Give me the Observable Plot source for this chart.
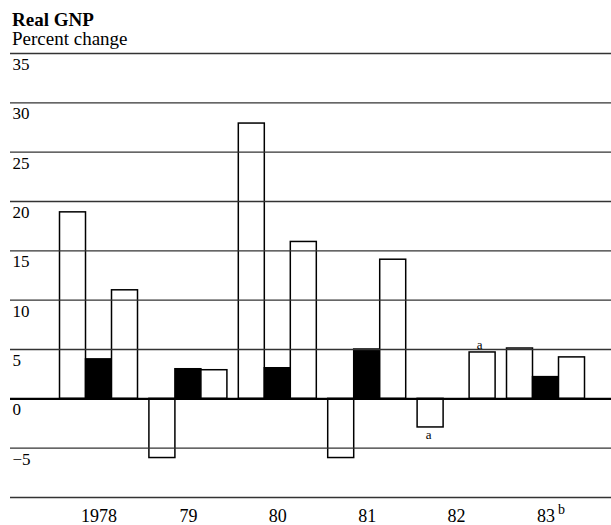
<!DOCTYPE html>
<html>
<head>
<meta charset="utf-8">
<script src="https://cdn.jsdelivr.net/npm/d3@7"></script>
<script src="https://cdn.jsdelivr.net/npm/@observablehq/plot@0.6"></script>
<style>
  html, body { margin: 0; padding: 0; background: #fff; }
  #wrap { width: 611px; font-family: "Liberation Serif", "Times New Roman", serif; color: #000; }
  .title { font-size: 19px; font-weight: 700; line-height: 19px; padding: 10px 0 0 12px; }
  .subtitle { font-size: 19px; line-height: 19px; padding-left: 12px; }
</style>
</head>
<body>
<div id="wrap">
  <div class="title">Real GNP</div>
  <div class="subtitle">Percent change</div>
  <div id="chart"></div>
</div>
<script>
// ---- data ----
const years = ["1978", "79", "80", "81", "82", "83"];
const firstBar  = [18.9, -6.0, 27.9, -6.0, -2.9, 5.1];   // white, left
const middleBar = [4.0, 3.0, 3.1, 5.0, null, 2.2];        // black, middle
const lastBar   = [11.0, 2.9, 15.9, 14.1, 4.7, 4.2];      // white, right
const yTickValues = [35, 30, 25, 20, 15, 10, 5, 0, -5];
const yTickLabels = ["35", "30", "25", "20", "15", "10", "5", "0", "\u22125"];
const gridValues = [35, 30, 25, 20, 15, 10, 5, -5, -10];
const yearNotes = ["", "", "", "", "", "b"];
const barNotes = [
  {year: "82", bar: 0, text: "a"},
  {year: "82", bar: 2, text: "a"}
];

// ---- build table ----
const series = [
  {values: firstBar, fill: "white"},
  {values: middleBar, fill: "black"},
  {values: lastBar, fill: "white"}
];
const slotW = 26 / 89.4; // bar width as a fraction of the group step
const xDomain = [-0.99, 5.7326];
const bars = [];
years.forEach((yr, i) => {
  series.forEach((s, k) => {
    const v = s.values[i];
    if (v == null) return;
    bars.push({year: yr, x1: i + (k - 1.5) * slotW, x2: i + (k - 0.5) * slotW, value: v, fill: s.fill});
  });
});
const noteRows = barNotes.map(n => {
  const i = years.indexOf(n.year);
  const v = series[n.bar].values[i];
  return {x: i + (n.bar - 1) * slotW, y: v, text: n.text};
});
const notesAbove = noteRows.filter(d => d.y >= 0);
const notesBelow = noteRows.filter(d => d.y < 0);
const yearRows = years.map((y, i) => ({x: i, label: y, note: yearNotes[i]}));
const tickRows = yTickValues.map((v, i) => ({y: v, label: yTickLabels[i]}));
const gridRows = gridValues.map(v => ({y: v, x1: xDomain[0], x2: xDomain[1]}));

const chart = Plot.plot({
  width: 611,
  height: 477,
  marginLeft: 10,
  marginRight: 0,
  marginTop: 5,
  marginBottom: 28,
  style: {fontFamily: "Liberation Serif, Times New Roman, serif", background: "white", overflow: "visible"},
  x: {type: "linear", domain: xDomain, axis: null},
  y: {domain: [-10, 35], axis: null},
  marks: [
    Plot.rect(bars, {x1: "x1", x2: "x2", y1: 0, y2: "value", fill: "fill", stroke: "black", strokeWidth: 1.5}),
    Plot.ruleY(gridRows, {y: "y", x1: "x1", x2: "x2", stroke: "#333", strokeWidth: 1.3}),
    Plot.ruleY([0], {stroke: "black", strokeWidth: 2.2}),
    Plot.text(tickRows, {y: "y", text: "label", frameAnchor: "left", textAnchor: "start", lineAnchor: "middle", dx: 2, dy: 11, fontSize: 17, fill: "black"}),
    Plot.text(yearRows, {x: "x", text: "label", frameAnchor: "bottom", lineAnchor: "middle", dy: 19, fontSize: 18, fill: "black"}),
    Plot.text(yearRows, {x: "x", text: "note", frameAnchor: "bottom", textAnchor: "start", lineAnchor: "middle", dx: 12, dy: 12, fontSize: 14, fill: "black"}),
    Plot.text(notesAbove, {x: "x", y: "y", text: "text", dx: -3, dy: -3, lineAnchor: "bottom", fontSize: 13, fill: "black"}),
    Plot.text(notesBelow, {x: "x", y: "y", text: "text", dx: -2, dy: 2, lineAnchor: "top", fontSize: 13, fill: "black"})
  ]
});
document.getElementById("chart").appendChild(chart);
</script>
</body>
</html>
